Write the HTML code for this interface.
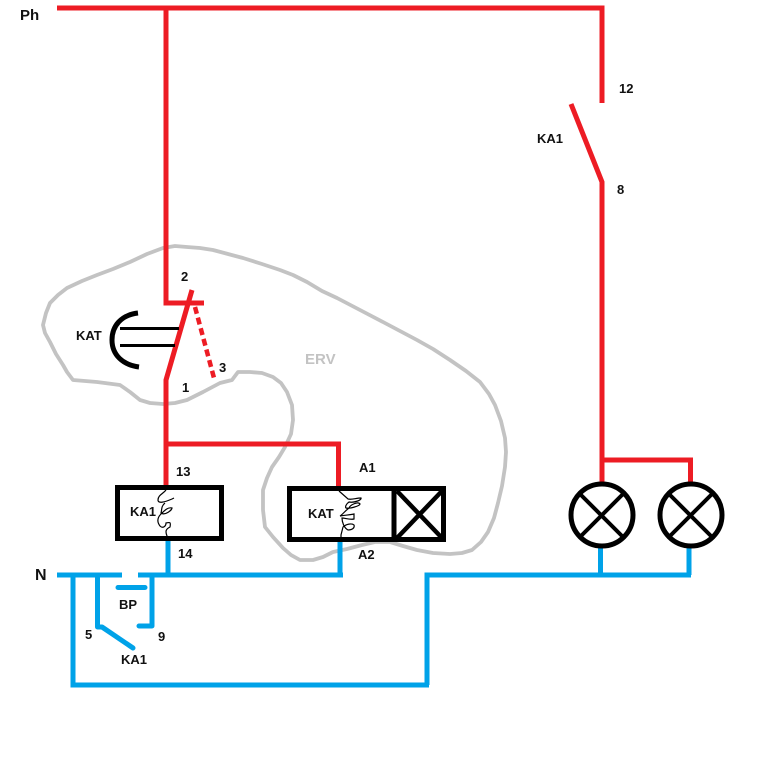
<!DOCTYPE html>
<html>
<head>
<meta charset="utf-8">
<style>
html,body{margin:0;padding:0;background:#fff}
svg{display:block}
text{font-family:"Liberation Sans",sans-serif;font-weight:bold;font-size:13px;fill:#111}
</style>
</head>
<body>
<svg width="772" height="774" viewBox="0 0 772 774" xmlns="http://www.w3.org/2000/svg">
<!-- ERV outline -->
<path fill="none" stroke="#c3c3c3" stroke-width="3.800" stroke-linejoin="round" d="M163 248 L175 246 L187 247 L200 248 L213 250 L228 254 L243 258 L262 264 L280 270 L293 275 L307 282 L322 291 L337 298 L360 310 L383 322 L400 331 L417 340 L433 349 L450 360 L466 371 L480 382 L489 394 L495 405 L501 421 L505 438 L506 452 L505 467 L502 486 L498 503 L494 518 L488 532 L481 542 L472 550 L462 553 L450 554 L433 553 L417 550 L403 546 L390 542 L375 542 L362 545 L347 549 L333 552 L323 557 L313 560 L300 560 L291 555 L283 548 L273 537 L265 527 L263 510 L263 490 L267 478 L272 467 L279 457 L285 447 L291 434 L293 420 L292 405 L287 392 L281 383 L273 377 L262 373 L250 372 L238 372 L232 380 L220 383 L203 392 L187 400 L175 403 L163 404 L150 403 L140 400 L130 392 L120 385 L97 382 L73 380 L67 372 L63 365 L56 354 L50 342 L45 333 L43 325 L46 313 L50 303 L58 295 L67 288 L82 281 L97 275 L113 269 L130 262 L147 254 Z"/>
<!-- Red wiring -->
<g fill="none" stroke="#ed1c24" stroke-width="5">
<path d="M57 8 H602 V103"/>
<path d="M571 104 L602 182 V482"/>
<path d="M602 460 H690.500 V482"/>
<path d="M166 8 V303 H204"/>
<path d="M192 290 L166 380 V487"/>
<path d="M166 444 H338.500 V487"/>
<path d="M195 307 L214 378" stroke-width="4.500" stroke-dasharray="7 4"/>
</g>
<!-- Blue wiring -->
<g fill="none" stroke="#00a2e8" stroke-width="5">
<path d="M57 575 H122"/>
<path d="M138 575 H343"/>
<path d="M168 541 V575"/>
<path d="M340 542 V575"/>
<path d="M73 575 V685 H429"/>
<path d="M427 685 V575 H691"/>
<path d="M600.500 548 V575"/>
<path d="M689 548 V575"/>
<path d="M97.500 575 V627 H102 L133 648" stroke-linejoin="round" stroke-linecap="round"/>
<path d="M118 587.500 H145" stroke-linecap="round"/>
<path d="M152 575 V626 H139" stroke-linejoin="round" stroke-linecap="round"/>
</g>
<!-- Black components -->
<g fill="none" stroke="#000">
<path d="M138 313 C121 315 112 326 112 340 C112 355 123 365 139 367" stroke-width="5"/>
<path d="M120 328.500 H179 M120 345.500 H175" stroke-width="3"/>
<rect x="117.500" y="487.500" width="104" height="51" stroke-width="5"/>
<rect x="289.500" y="488.500" width="154" height="51" stroke-width="5"/>
<path d="M394 488 V540" stroke-width="5"/>
<path d="M397 491 L442 538 M442 491 L397 538" stroke-width="4.500"/>
<circle cx="602" cy="515" r="31" stroke-width="5"/>
<circle cx="691" cy="515" r="31" stroke-width="5"/>
<path d="M580 494 L623 537 M623 494 L580 537" stroke-width="4"/>
<path d="M669 494 L712 537 M712 494 L669 537" stroke-width="4"/>
<path stroke-width="1.200" d="M166 490 C163 494 158 495 158 500 C158 504 165 502 172 499 L174 498 M165 503 C161 506 162 510 161 513 C165 516 172 510 172 508 C168 507 165 510 161 514 C157 518 157 522 160 526 C163 529 166 526 166 523 C170 522 171 522 170 527 C166 529 165 531 167 536 L168 540"/>
<path stroke-width="1.200" d="M339 491 L348 499 C352 500 356 498 361 498 C362 500 354 503 349 502 C346 504 345 507 346 508 C349 509 360 506 360 504 C358 501 350 505 349 508 C345 511 342 515 340 516 C345 515 350 515 354 514 L354 519 C350 520 345 518 342 518 C342 522 344 528 348 530 C352 530 355 528 354 525 C352 523 346 524 343 527 L341 535 V541"/>
</g>
<!-- Labels -->
<text x="20" y="20" style="font-size:15px">Ph</text>
<text x="619" y="93">12</text>
<text x="537" y="143">KA1</text>
<text x="617" y="194">8</text>
<text x="181" y="281">2</text>
<text x="76" y="340">KAT</text>
<text x="219" y="372">3</text>
<text x="182" y="392">1</text>
<text x="305" y="364" style="fill:#c3c3c3;font-size:15px">ERV</text>
<text x="176" y="476">13</text>
<text x="359" y="472">A1</text>
<text x="130" y="516">KA1</text>
<text x="308" y="518">KAT</text>
<text x="178" y="558">14</text>
<text x="358" y="559">A2</text>
<text x="35" y="580" style="font-size:16px">N</text>
<text x="119" y="609">BP</text>
<text x="85" y="639">5</text>
<text x="158" y="641">9</text>
<text x="121" y="664">KA1</text>
</svg>
</body>
</html>
